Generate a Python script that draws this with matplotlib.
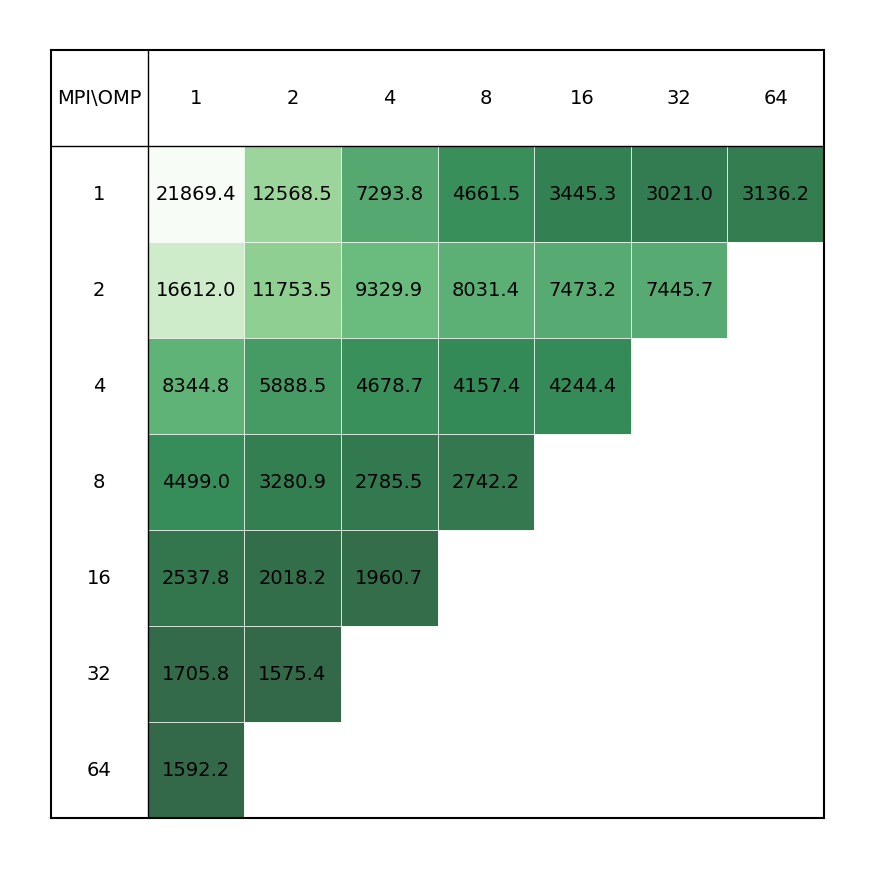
import numpy as np
import matplotlib
matplotlib.use("Agg")
import matplotlib.pyplot as plt

# tempos (MPI x OMP), triangulo superior
mpi_procs = [1, 2, 4, 8, 16, 32, 64]
omp_threads = [1, 2, 4, 8, 16, 32, 64]
row_1 = [21869.4, 12568.5, 7293.8, 4661.5, 3445.3, 3021.0, 3136.2]
row_2 = [16612.0, 11753.5, 9329.9, 8031.4, 7473.2, 7445.7]
row_4 = [8344.8, 5888.5, 4678.7, 4157.4, 4244.4]
row_8 = [4499.0, 3280.9, 2785.5, 2742.2]
row_16 = [2537.8, 2018.2, 1960.7]
row_32 = [1705.8, 1575.4]
row_64 = [1592.2]

rows = [row_1, row_2, row_4, row_8, row_16, row_32, row_64]
n = len(omp_threads)
grid = np.full((len(mpi_procs), n), np.nan)
for i, r in enumerate(rows):
    grid[i, :len(r)] = r
data = np.ma.masked_invalid(grid)

fig = plt.figure(figsize=(8.75, 8.70), dpi=100)
ax = fig.add_axes([51 / 875, 1 - 819 / 870, 773 / 875, 768 / 870])

ax.pcolormesh(np.arange(n + 1), np.arange(len(mpi_procs) + 1), data,
              cmap="Greens_r", vmin=data.min(), vmax=data.max(), alpha=0.8,
              edgecolors="white", linewidth=0.7)

for i, r in enumerate(rows):
    for j, v in enumerate(r):
        ax.text(j + 0.5, i + 0.5, f"{v:.1f}", ha="center", va="center", fontsize=14)

# cabecalhos
ax.text(-0.5, -0.5, "MPI\\OMP", ha="center", va="center", fontsize=14)
for j, t in enumerate(omp_threads):
    ax.text(j + 0.5, -0.5, str(t), ha="center", va="center", fontsize=14)
for i, p in enumerate(mpi_procs):
    ax.text(-0.5, i + 0.5, str(p), ha="center", va="center", fontsize=14)

ax.axhline(0, color="black", linewidth=1)
ax.axvline(0, color="black", linewidth=1)

ax.set_xlim(-1, n)
ax.set_ylim(len(mpi_procs), -1)
ax.set_xticks([])
ax.set_yticks([])
for s in ax.spines.values():
    s.set_linewidth(1.5)

fig.savefig("out.png", dpi=100)
